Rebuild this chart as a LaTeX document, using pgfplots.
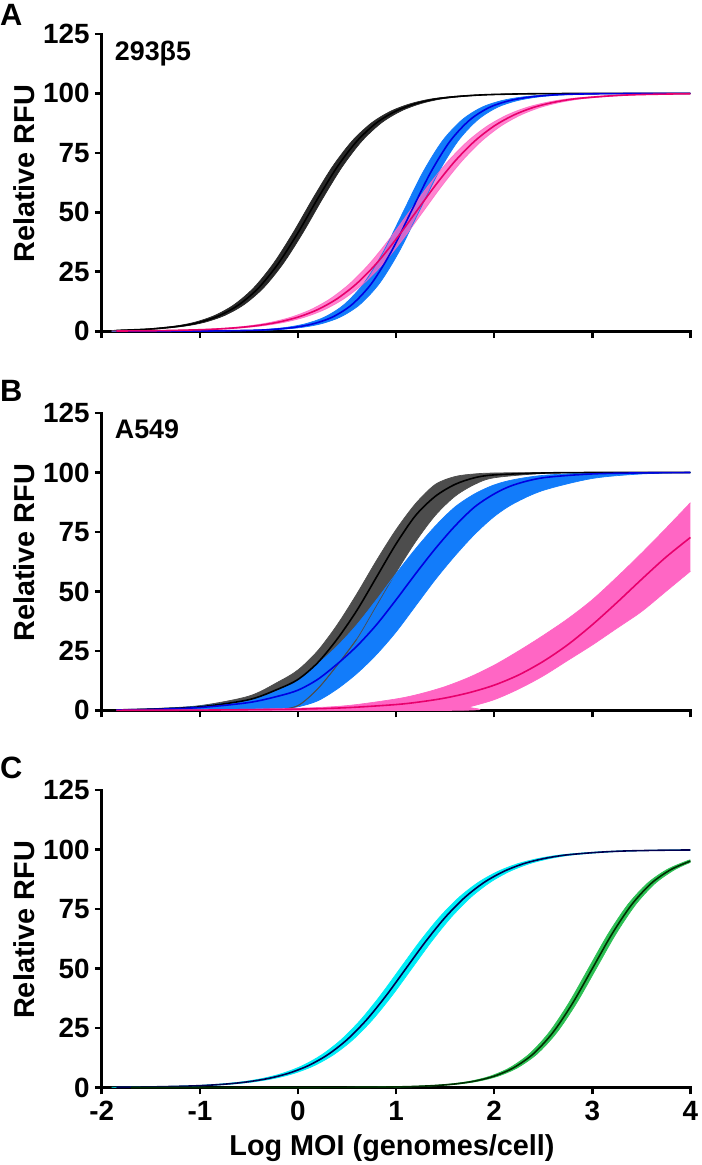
\documentclass[border=0pt]{standalone}
\usepackage{fontspec}
\setmainfont{Liberation Sans}
\usepackage{pgfplots}
\pgfplotsset{compat=1.18}
\usepgfplotslibrary{fillbetween}

\definecolor{bandK}{RGB}{40,40,40}
\definecolor{bandKB}{RGB}{77,77,77}
\definecolor{bandB}{RGB}{18,124,250}
\definecolor{lineB}{RGB}{0,0,225}
\definecolor{bandP}{RGB}{255,102,196}
\definecolor{lineP}{RGB}{232,0,108}
\definecolor{bandC}{RGB}{0,236,246}
\definecolor{lineC}{RGB}{0,0,80}
\definecolor{bandG}{RGB}{44,192,84}
\definecolor{lineG}{RGB}{0,45,0}

\tikzset{
  tag/.style={font=\fontsize{31}{34}\selectfont\bfseries, anchor=base west, inner sep=0pt},
  cell/.style={font=\fontsize{27}{30}\selectfont\bfseries, anchor=base west, inner sep=0pt},
}
\pgfplotsset{
  panel/.style={
    scale only axis, width=590bp, height=298bp,
    xmin=-2, xmax=4, ymin=0, ymax=125,
    axis lines=left,
    axis line style={-, line width=2.6bp, line cap=rect},
    tick align=outside,
    major tick length=7bp,
    every tick/.style={black, line width=2.6bp},
    xtick={-2,-1,0,1,2,3,4},
    ytick={0,25,50,75,100,125},
    yticklabels={0,25,50,75,100,125},
    xticklabels={},
    tick label style={font=\fontsize{28}{31}\selectfont\bfseries},
    yticklabel style={inner sep=2bp, xshift=-3bp},
    xticklabel style={yshift=-3bp},
    ylabel={Relative RFU},
    every axis y label/.style={at={(axis description cs:-0.132,0.53)}, rotate=90,
      anchor=center, font=\fontsize{29}{32}\selectfont\bfseries},
    clip=false, no markers,
  },
  edge/.style={draw=#1, line width=0.7bp, smooth},
  fitline/.style={draw=#1, line width=1.6bp, smooth},
}

\begin{document}
\begin{tikzpicture}

% ---------------- A : 293b5
\begin{axis}[panel, at={(102bp,-332bp)}, anchor=south west]
  \node[tag] at (axis description cs:-0.173,1.03) {A};
  \node[cell] at (axis description cs:0.022,0.912) {293β5};
  % black band
  \addplot[edge=bandK, name path=aku] coordinates {(-1.9,0.34) (-1.55,0.94) (-1.25,2.19) (-1.05,3.8) (-0.85,6.6) (-0.65,11.2) (-0.45,18.3) (-0.25,28.5) (-0.05,41.4) (0.15,55.7) (0.35,69.1) (0.55,79.9) (0.75,87.6) (0.95,92.6) (1.15,95.7) (1.35,97.6) (1.55,98.6) (1.75,99.2) (1.95,99.55) (2.35,99.86) (2.95,99.97) (4.0,100)};
  \addplot[edge=bandK, name path=akl] coordinates {(-1.8,0.34) (-1.45,0.94) (-1.15,2.19) (-0.95,3.8) (-0.75,6.6) (-0.55,11.2) (-0.35,18.3) (-0.15,28.5) (0.05,41.4) (0.25,55.7) (0.45,69.1) (0.65,79.9) (0.85,87.6) (1.05,92.6) (1.25,95.7) (1.45,97.6) (1.65,98.6) (1.85,99.2) (2.05,99.55) (2.45,99.86) (3.05,99.97) (4.0,100)};
  \addplot[fill=bandK, draw=none] fill between[of=aku and akl];
  % blue band
  \addplot[edge=bandB, name path=abu] coordinates {(-1.9,0.003) (-1.13,0.05) (-0.53,0.4) (-0.33,0.79) (-0.13,1.56) (0.07,3.07) (0.27,5.93) (0.47,11.2) (0.67,20.1) (0.87,33.4) (1.07,50) (1.27,66.6) (1.47,79.9) (1.67,88.8) (1.87,94.1) (2.07,96.9) (2.27,98.4) (2.47,99.2) (2.67,99.6) (3.07,99.9) (4.0,100)};
  \addplot[edge=bandB, name path=abl] coordinates {(-1.85,0.002) (-0.97,0.05) (-0.37,0.4) (-0.17,0.79) (0.03,1.56) (0.23,3.07) (0.43,5.93) (0.63,11.2) (0.83,20.1) (1.03,33.4) (1.23,50) (1.43,66.6) (1.63,79.9) (1.83,88.8) (2.03,94.1) (2.23,96.9) (2.43,98.4) (2.63,99.2) (2.83,99.6) (3.23,99.9) (4.0,100)};
  \addplot[fill=bandB, draw=none] fill between[of=abu and abl];
  % pink band
  \addplot[edge=bandP, name path=apu, opacity=0.8] coordinates {(-1.9,0.09) (-1.47,0.25) (-1.07,0.63) (-0.87,0.99) (-0.67,1.56) (-0.47,2.45) (-0.27,3.83) (-0.07,5.93) (0.13,9.09) (0.33,13.7) (0.53,20.1) (0.73,28.5) (0.93,38.7) (1.13,50) (1.33,61.3) (1.53,71.5) (1.73,79.9) (1.93,86.3) (2.13,90.9) (2.33,94.1) (2.53,96.2) (2.73,97.6) (2.93,98.4) (3.13,99.0) (3.33,99.4) (3.53,99.6) (3.73,99.75) (4.0,99.88)};
  \addplot[edge=bandP, name path=apl, opacity=0.8] coordinates {(-1.85,0.08) (-1.33,0.25) (-0.93,0.63) (-0.73,0.99) (-0.53,1.56) (-0.33,2.45) (-0.13,3.83) (0.07,5.93) (0.27,9.09) (0.47,13.7) (0.67,20.1) (0.87,28.5) (1.07,38.7) (1.27,50) (1.47,61.3) (1.67,71.5) (1.87,79.9) (2.07,86.3) (2.27,90.9) (2.47,94.1) (2.67,96.2) (2.87,97.6) (3.07,98.4) (3.27,99.0) (3.47,99.4) (3.67,99.6) (3.87,99.75) (4.0,99.8)};
  \addplot[fill=bandP, draw=none, opacity=0.8] fill between[of=apu and apl];
  % fitted curves
  \addplot[fitline=black] coordinates {(-1.85,0.34) (-1.5,0.94) (-1.2,2.19) (-1.0,3.8) (-0.8,6.6) (-0.6,11.2) (-0.4,18.3) (-0.2,28.5) (0,41.4) (0.2,55.7) (0.4,69.1) (0.6,79.9) (0.8,87.6) (1.0,92.6) (1.2,95.7) (1.4,97.6) (1.6,98.6) (1.8,99.2) (2.0,99.55) (2.4,99.86) (3.0,99.97) (4.0,100)};
  \addplot[fitline=lineB] coordinates {(-1.85,0.003) (-1.05,0.05) (-0.45,0.4) (-0.25,0.79) (-0.05,1.56) (0.15,3.07) (0.35,5.93) (0.55,11.2) (0.75,20.1) (0.95,33.4) (1.15,50) (1.35,66.6) (1.55,79.9) (1.75,88.8) (1.95,94.1) (2.15,96.9) (2.35,98.4) (2.55,99.2) (2.75,99.6) (3.15,99.9) (4.0,100)};
  \addplot[fitline=lineP] coordinates {(-1.85,0.09) (-1.4,0.25) (-1.0,0.63) (-0.8,0.99) (-0.6,1.56) (-0.4,2.45) (-0.2,3.83) (0,5.93) (0.2,9.09) (0.4,13.7) (0.6,20.1) (0.8,28.5) (1.0,38.7) (1.2,50) (1.4,61.3) (1.6,71.5) (1.8,79.9) (2.0,86.3) (2.2,90.9) (2.4,94.1) (2.6,96.2) (2.8,97.6) (3.0,98.4) (3.2,99.0) (3.4,99.4) (3.6,99.6) (3.8,99.75) (4.0,99.84)};
\end{axis}

% ---------------- B : A549
\begin{axis}[panel, at={(102bp,-712bp)}, anchor=south west]
  \node[tag] at (axis description cs:-0.173,1.04) {B};
  \node[cell] at (axis description cs:0.022,0.915) {A549};
  % black band
  \addplot[edge=bandKB, name path=bku] coordinates {(-1.85,0.3) (-1.5,0.7) (-1.0,2) (-0.5,6) (-0.2,12) (0,17) (0.2,25) (0.4,36) (0.6,49) (0.8,63) (1.0,76) (1.2,87) (1.4,95) (1.6,98.3) (1.8,99.4) (2.0,99.8) (2.5,100) (3.0,100) (4.0,100)};
  \addplot[edge=bandKB, name path=bkl] coordinates {(-1.85,0) (-0.5,0) (-0.2,0.3) (0,2) (0.2,9) (0.4,19) (0.6,30) (0.8,44) (1.0,58) (1.2,71) (1.4,82) (1.6,90) (1.8,95) (2.0,97.8) (2.5,99.6) (3.0,100) (4.0,100)};
  \addplot[fill=bandKB, draw=none] fill between[of=bku and bkl];
  % blue band
  \addplot[edge=bandB, name path=bbu] coordinates {(-1.85,0.3) (-1.5,0.6) (-1.0,1.8) (-0.5,4.5) (-0.2,8.5) (0,13) (0.2,19.5) (0.4,27) (0.6,36) (0.8,46.5) (1.0,57.5) (1.2,68) (1.4,77.5) (1.6,85.5) (1.8,91) (2.0,94.8) (2.2,97) (2.5,98.8) (3.0,99.8) (4.0,100)};
  \addplot[edge=bandB, name path=bbl] coordinates {(-1.85,0) (-0.5,0) (-0.2,0.5) (0,1.5) (0.2,4) (0.4,9) (0.6,15.5) (0.8,23.5) (1.0,33) (1.2,44) (1.4,55) (1.6,65) (1.8,74) (2.0,81.5) (2.2,87) (2.5,92.5) (3.0,97.5) (3.5,99.4) (4.0,100)};
  \addplot[fill=bandB, draw=none] fill between[of=bbu and bbl];
  % lower edge of the black band, seen over the blue one
  \addplot[draw=bandKB, line width=0.9bp, smooth] coordinates {(-0.2,0.3) (0,2) (0.2,9) (0.4,19) (0.6,30)};
  % pink band
  \addplot[edge=bandP, name path=bpu] coordinates {(-1.85,0.05) (-1.0,0.2) (0,0.9) (0.5,2) (1.0,4.8) (1.25,7) (1.5,10) (1.75,14) (2.0,19) (2.25,25) (2.5,31.5) (2.75,38.5) (3.0,46.5) (3.25,56) (3.5,66) (3.75,76.5) (4.0,87.3)};
  \addplot[edge=bandP, name path=bpl] coordinates {(-1.85,0) (1.6,0) (1.75,1.5) (2.0,4.5) (2.25,9) (2.5,14.5) (2.75,21) (3.0,27.5) (3.25,34.5) (3.5,41.5) (3.75,50) (4.0,58.5)};
  \addplot[fill=bandP, draw=none] fill between[of=bpu and bpl];
  % fitted curves
  \addplot[fitline=black] coordinates {(-1.85,0.2) (-1.5,0.5) (-1.0,1.5) (-0.5,4.5) (-0.2,9) (0,13) (0.2,20) (0.4,30) (0.6,42) (0.8,56) (1.0,70) (1.2,82) (1.4,90) (1.6,95) (1.8,97.8) (2.0,99) (2.5,99.8) (3.0,100) (4.0,100)};
  \addplot[fitline=lineB] coordinates {(-1.85,0.2) (-1.5,0.4) (-1.0,1.2) (-0.5,3.3) (-0.2,6) (0,8.5) (0.2,13) (0.4,19.5) (0.6,27) (0.8,36) (1.0,46.5) (1.2,57.5) (1.4,68) (1.6,77.5) (1.8,85.5) (2.0,91) (2.2,94.8) (2.5,97.8) (3.0,99.4) (3.5,99.85) (4.0,100)};
  \addplot[fitline=lineP] coordinates {(-1.85,0.03) (-1.0,0.11) (0,0.53) (0.5,1.14) (1.0,2.45) (1.25,3.6) (1.5,5.2) (1.75,7.5) (2.0,10.6) (2.25,14.9) (2.5,20.6) (2.75,27.6) (3.0,36.0) (3.25,45.3) (3.5,55.0) (3.75,64.4) (4.0,72.7)};
\end{axis}

% ---------------- C
\begin{axis}[panel, at={(102bp,-1090bp)}, anchor=south west,
  xticklabels={-2,-1,0,1,2,3,4},
  xlabel={Log MOI (genomes/cell)},
  every axis x label/.style={at={(axis description cs:0.493,-0.229)}, anchor=base,
    font=\fontsize{29}{32}\selectfont\bfseries}]
  \node[tag] at (axis description cs:-0.173,1.04) {C};
  % cyan band
  \addplot[edge=bandC, name path=ccu] coordinates {(-1.9,0.1) (-1.56,0.25) (-1.16,0.63) (-0.96,0.99) (-0.76,1.56) (-0.56,2.45) (-0.36,3.83) (-0.16,5.93) (0.04,9.09) (0.24,13.7) (0.44,20.1) (0.64,28.5) (0.84,38.7) (1.04,50) (1.24,61.3) (1.44,71.5) (1.64,79.9) (1.84,86.3) (2.04,90.9) (2.24,94.1) (2.44,96.2) (2.64,97.6) (2.84,98.4) (3.04,99.0) (3.24,99.4) (3.44,99.6) (3.64,99.75) (4.0,99.9)};
  \addplot[edge=bandC, name path=ccl] coordinates {(-1.85,0.08) (-1.44,0.25) (-1.04,0.63) (-0.84,0.99) (-0.64,1.56) (-0.44,2.45) (-0.24,3.83) (-0.04,5.93) (0.16,9.09) (0.36,13.7) (0.56,20.1) (0.76,28.5) (0.96,38.7) (1.16,50) (1.36,61.3) (1.56,71.5) (1.76,79.9) (1.96,86.3) (2.16,90.9) (2.36,94.1) (2.56,96.2) (2.76,97.6) (2.96,98.4) (3.16,99.0) (3.36,99.4) (3.56,99.6) (3.76,99.75) (4.0,99.85)};
  \addplot[fill=bandC, draw=none] fill between[of=ccu and ccl];
  % green band
  \addplot[edge=bandG, name path=cgu] coordinates {(-1.74,0) (-0.04,0.01) (0.56,0.08) (0.96,0.25) (1.16,0.46) (1.36,0.83) (1.56,1.49) (1.76,2.68) (1.96,4.77) (2.16,8.36) (2.36,14.2) (2.56,23.2) (2.76,35.5) (2.96,50) (3.16,64.5) (3.36,76.8) (3.56,85.8) (3.76,91.6) (3.96,95.2) (4.0,95.7)};
  \addplot[edge=bandG, name path=cgl] coordinates {(-1.7,0) (0.04,0.01) (0.64,0.08) (1.04,0.25) (1.24,0.46) (1.44,0.83) (1.64,1.49) (1.84,2.68) (2.04,4.77) (2.24,8.36) (2.44,14.2) (2.64,23.2) (2.84,35.5) (3.04,50) (3.24,64.5) (3.44,76.8) (3.64,85.8) (3.84,91.6) (4.0,94.65)};
  \addplot[fill=bandG, draw=none] fill between[of=cgu and cgl];
  % fitted curves
  \addplot[fitline=lineC] coordinates {(-1.85,0.1) (-1.5,0.25) (-1.1,0.63) (-0.9,0.99) (-0.7,1.56) (-0.5,2.45) (-0.3,3.83) (-0.1,5.93) (0.1,9.09) (0.3,13.7) (0.5,20.1) (0.7,28.5) (0.9,38.7) (1.1,50) (1.3,61.3) (1.5,71.5) (1.7,79.9) (1.9,86.3) (2.1,90.9) (2.3,94.1) (2.5,96.2) (2.7,97.6) (2.9,98.4) (3.1,99.0) (3.3,99.4) (3.5,99.6) (3.7,99.75) (4.0,99.87)};
  \addplot[fitline=lineG] coordinates {(-1.7,0) (0,0.01) (0.6,0.08) (1.0,0.25) (1.2,0.46) (1.4,0.83) (1.6,1.49) (1.8,2.68) (2.0,4.77) (2.2,8.36) (2.4,14.2) (2.6,23.2) (2.8,35.5) (3.0,50) (3.2,64.5) (3.4,76.8) (3.6,85.8) (3.8,91.6) (4.0,95.2)};
\end{axis}
\path (0,0) rectangle (700bp,-1165bp);
\end{tikzpicture}
\end{document}
